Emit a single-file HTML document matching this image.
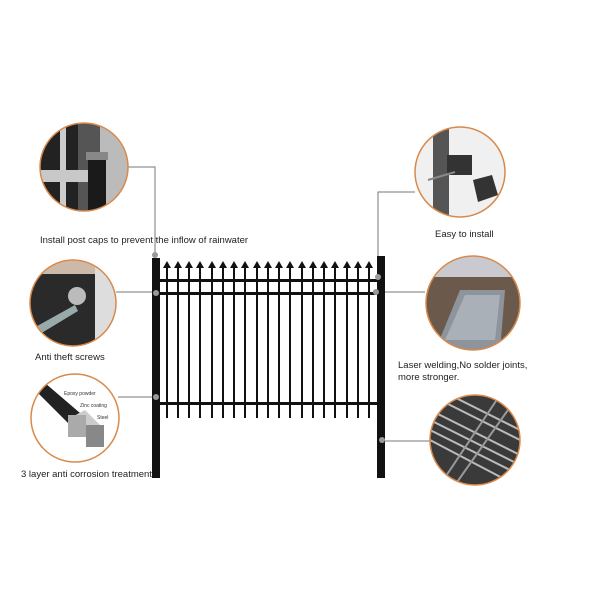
<!DOCTYPE html>
<html><head><style>
body{margin:0;background:#fff;}
svg{display:block;font-family:"Liberation Sans",sans-serif;}
</style></head><body>
<svg width="600" height="600" viewBox="0 0 600 600" xmlns="http://www.w3.org/2000/svg">
<defs>
<clipPath id="c1"><circle cx="84" cy="167" r="44"/></clipPath>
<clipPath id="c2"><circle cx="73" cy="303" r="43"/></clipPath>
<clipPath id="c3"><circle cx="75" cy="418" r="44"/></clipPath>
<clipPath id="c4"><circle cx="460" cy="172" r="45"/></clipPath>
<clipPath id="c5"><circle cx="473" cy="303" r="47"/></clipPath>
<clipPath id="c6"><circle cx="475" cy="440" r="45"/></clipPath>
</defs>
<!-- connectors -->
<g stroke="#777" stroke-width="1" fill="none">
<polyline points="128,167 155,167 155,258"/>
<line x1="116" y1="292" x2="155" y2="292"/>
<line x1="118" y1="397" x2="155" y2="397"/>
<polyline points="415,192 378,192 378,262"/>
<line x1="378" y1="292" x2="425" y2="292"/>
<line x1="382" y1="441" x2="430" y2="441"/>
</g>
<!-- fence -->
<g fill="#111">
<rect x="152" y="258" width="8" height="220"/>
<rect x="377" y="256" width="8" height="222"/>
<rect x="158" y="279" width="222" height="3"/>
<rect x="158" y="292" width="222" height="3"/>
<rect x="158" y="402" width="222" height="3"/>
</g>
<g fill="#111" id="p">
<script>/* no script */</script>
</g>
<g fill="#111">
<!-- pickets -->
<rect x="166" y="266" width="2" height="152"/><polygon points="163,268 167,261 171,268"/>
<rect x="177" y="266" width="2" height="152"/><polygon points="174,268 178,261 182,268"/>
<rect x="188" y="266" width="2" height="152"/><polygon points="185,268 189,261 193,268"/>
<rect x="199" y="266" width="2" height="152"/><polygon points="196,268 200,261 204,268"/>
<rect x="211" y="266" width="2" height="152"/><polygon points="208,268 212,261 216,268"/>
<rect x="222" y="266" width="2" height="152"/><polygon points="219,268 223,261 227,268"/>
<rect x="233" y="266" width="2" height="152"/><polygon points="230,268 234,261 238,268"/>
<rect x="244" y="266" width="2" height="152"/><polygon points="241,268 245,261 249,268"/>
<rect x="256" y="266" width="2" height="152"/><polygon points="253,268 257,261 261,268"/>
<rect x="267" y="266" width="2" height="152"/><polygon points="264,268 268,261 272,268"/>
<rect x="278" y="266" width="2" height="152"/><polygon points="275,268 279,261 283,268"/>
<rect x="289" y="266" width="2" height="152"/><polygon points="286,268 290,261 294,268"/>
<rect x="301" y="266" width="2" height="152"/><polygon points="298,268 302,261 306,268"/>
<rect x="312" y="266" width="2" height="152"/><polygon points="309,268 313,261 317,268"/>
<rect x="323" y="266" width="2" height="152"/><polygon points="320,268 324,261 328,268"/>
<rect x="334" y="266" width="2" height="152"/><polygon points="331,268 335,261 339,268"/>
<rect x="346" y="266" width="2" height="152"/><polygon points="343,268 347,261 351,268"/>
<rect x="357" y="266" width="2" height="152"/><polygon points="354,268 358,261 362,268"/>
<rect x="368" y="266" width="2" height="152"/><polygon points="365,268 369,261 373,268"/>
</g>
<g fill="#999">
<circle cx="155" cy="255" r="3"/><circle cx="156" cy="293" r="3"/><circle cx="156" cy="397" r="3"/>
<circle cx="378" cy="277" r="3"/><circle cx="376" cy="292" r="3"/><circle cx="382" cy="440" r="3"/>
</g>
<!-- circle 1 -->
<g clip-path="url(#c1)">
<rect x="38" y="121" width="92" height="92" fill="#555"/>
<rect x="38" y="121" width="40" height="92" fill="#222"/>
<rect x="100" y="121" width="30" height="92" fill="#bbb"/>
<rect x="60" y="121" width="6" height="92" fill="#ccc"/>
<rect x="38" y="170" width="60" height="12" fill="#c8c8c8"/>
<rect x="88" y="160" width="18" height="55" fill="#1a1a1a"/>
<rect x="86" y="152" width="22" height="8" fill="#888"/>
</g>
<circle cx="84" cy="167" r="44" fill="none" stroke="#d98a4a" stroke-width="1.5"/>
<!-- circle 2 -->
<g clip-path="url(#c2)">
<rect x="30" y="260" width="86" height="86" fill="#2a2a2a"/>
<rect x="30" y="260" width="86" height="14" fill="#cdb9a8"/>
<rect x="95" y="265" width="21" height="81" fill="#ddd"/>
<circle cx="77" cy="296" r="9" fill="#bbb"/>
<polygon points="30,330 75,305 78,311 30,340" fill="#9aa"/>
</g>
<circle cx="73" cy="303" r="43" fill="none" stroke="#d98a4a" stroke-width="1.5"/>
<!-- circle 3 -->
<g clip-path="url(#c3)">
<rect x="31" y="374" width="88" height="88" fill="#fff"/>
<polygon points="35,390 45,383 80,413 70,425" fill="#222"/>
<polygon points="70,418 85,410 100,425 85,433" fill="#ccc"/>
<rect x="68" y="415" width="18" height="22" fill="#aaa"/>
<rect x="86" y="425" width="18" height="22" fill="#888"/>
</g>
<circle cx="75" cy="418" r="44" fill="none" stroke="#d98a4a" stroke-width="1.5"/>
<text x="64" y="395" font-size="5" fill="#333">Epoxy powder</text>
<text x="80" y="407" font-size="5" fill="#333">Zinc coating</text>
<text x="97" y="419" font-size="5" fill="#333">Steel</text>
<!-- circle 4 -->
<g clip-path="url(#c4)">
<rect x="415" y="127" width="90" height="90" fill="#f0f0f0"/>
<rect x="433" y="127" width="16" height="90" fill="#555"/>
<rect x="447" y="155" width="25" height="20" fill="#333"/>
<polygon points="473,180 492,175 498,195 478,202" fill="#333"/>
<line x1="428" y1="180" x2="455" y2="172" stroke="#888" stroke-width="2"/>
</g>
<circle cx="460" cy="172" r="45" fill="none" stroke="#d98a4a" stroke-width="1.5"/>
<!-- circle 5 -->
<g clip-path="url(#c5)">
<rect x="425" y="255" width="96" height="96" fill="#6b5a4c"/>
<rect x="425" y="255" width="96" height="22" fill="#c9c9cf"/>
<polygon points="460,290 505,290 500,351 435,351" fill="#8e949c"/>
<polygon points="465,295 500,295 495,340 445,340" fill="#aab0b8"/>
</g>
<circle cx="473" cy="303" r="47" fill="none" stroke="#d98a4a" stroke-width="1.5"/>
<!-- circle 6 -->
<g clip-path="url(#c6)">
<rect x="430" y="395" width="90" height="90" fill="#3a3a3a"/>
<g stroke="#bbb" stroke-width="2">
<line x1="430" y1="410" x2="520" y2="455"/><line x1="430" y1="420" x2="520" y2="465"/>
<line x1="430" y1="430" x2="520" y2="475"/><line x1="440" y1="400" x2="520" y2="440"/>
<line x1="450" y1="395" x2="520" y2="430"/><line x1="430" y1="440" x2="510" y2="482"/>
<line x1="440" y1="485" x2="500" y2="395" stroke="#999"/><line x1="455" y1="485" x2="515" y2="400" stroke="#999"/>
</g>
</g>
<circle cx="475" cy="440" r="45" fill="none" stroke="#d98a4a" stroke-width="1.5"/>
<!-- labels -->
<g font-size="9.5" fill="#222">
<text x="40" y="243">Install post caps to prevent the inflow of rainwater</text>
<text x="35" y="360">Anti theft screws</text>
<text x="21" y="477">3 layer  anti corrosion  treatment</text>
<text x="435" y="237">Easy to install</text>
<text x="398" y="368">Laser welding,No solder joints,</text>
<text x="398" y="380">more stronger.</text>
</g>
</svg>
</body></html>
